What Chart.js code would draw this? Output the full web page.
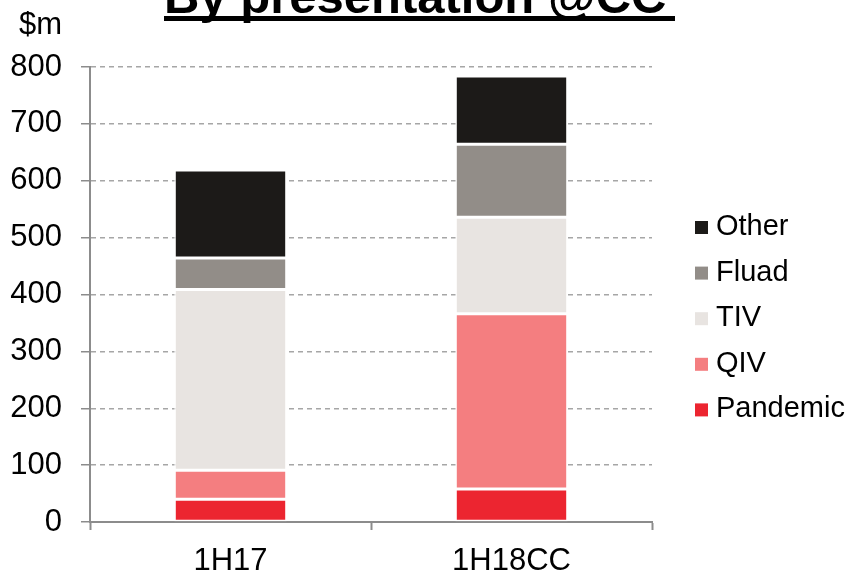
<!DOCTYPE html>
<html>
<head>
<meta charset="utf-8">
<script src="https://cdn.jsdelivr.net/npm/chart.js@4"></script>
<style>
  body { margin: 0; background: #fff; }
  #wrap { width: 850px; height: 577px; position: relative; }
</style>
</head>
<body>
<div id="wrap"><canvas id="myChart" width="850" height="577"></canvas></div>
<script>
// data ($m)
let categories = ["1H17", "1H18CC"];
let pandemic = [40, 58];
let qiv = [51, 308];
let tiv = [318, 170];
let fluad = [55, 128];
let other = [155, 120];
let yTicks = [0, 100, 200, 300, 400, 500, 600, 700, 800];

let seriesNames = ["Pandemic", "QIV", "TIV", "Fluad", "Other"];
let seriesColors = ["#ec2530", "#f47e80", "#e8e4e1", "#928d88", "#1c1a18"];
let seriesData = [pandemic, qiv, tiv, fluad, other];

const FONT = "Arial, 'Liberation Sans', sans-serif";

// title, unit label and legend drawn on the canvas
const extras = {
  id: "extras",
  afterDraw(c) {
    const ctx = c.ctx;
    ctx.save();
    ctx.fillStyle = "#000";
    ctx.font = "bold 49px " + FONT;
    ctx.textBaseline = "alphabetic";
    ctx.textAlign = "left";
    ctx.fillText("By presentation @CC", 164, 13);
    ctx.fillRect(164, 16, 511, 5);

    ctx.font = "31px " + FONT;
    ctx.textAlign = "right";
    ctx.fillText("$m", 62, 34);

    // legend, top item is the last series
    ctx.textAlign = "left";
    ctx.textBaseline = "middle";
    ctx.font = "29px " + FONT;
    for (let i = 0; i < seriesNames.length; i++) {
      let k = seriesNames.length - 1 - i;
      let y = 227 + i * 45.6;
      ctx.fillStyle = seriesColors[k];
      ctx.fillRect(695, y - 6, 13, 13);
      ctx.fillStyle = "#000";
      ctx.fillText(seriesNames[k], 716, y);
    }
    ctx.restore();
  }
};

let chart = new Chart(document.getElementById("myChart").getContext("2d"), {
  type: "bar",
  data: {
    labels: categories,
    datasets: seriesNames.map(function (name, i) {
      return {
        label: name,
        data: seriesData[i],
        backgroundColor: seriesColors[i],
        borderColor: "#ffffff",
        borderWidth: 1.5,
        borderSkipped: false,
        barPercentage: 0.4,
        categoryPercentage: 1
      };
    })
  },
  options: {
    responsive: false,
    animation: false,
    layout: { padding: { top: 67, right: 198, left: 0, bottom: 0 } },
    plugins: { legend: { display: false }, tooltip: { enabled: false } },
    scales: {
      x: {
        stacked: true,
        offset: true,
        grid: {
          offset: true,
          drawOnChartArea: false,
          drawTicks: true,
          tickLength: 8,
          tickColor: "#8c8c8c",
          tickWidth: 2
        },
        border: { color: "#8c8c8c", width: 2 },
        ticks: { color: "#000", font: { size: 31, family: FONT }, padding: 13 },
        afterFit: function (s) { s.height = 55; }
      },
      y: {
        stacked: true,
        min: 0,
        max: 800,
        afterBuildTicks: function (s) { s.ticks = yTicks.map(v => ({ value: v })); },
        grid: {
          color: "#a6a6a6",
          lineWidth: 1.5,
          tickLength: 9,
          tickColor: "#8c8c8c",
          tickWidth: 1.5,
          tickBorderDash: []
        },
        border: { color: "#8c8c8c", width: 2, dash: [5, 4] },
        ticks: { color: "#000", font: { size: 31, family: FONT }, padding: 19 },
        afterFit: function (s) { s.width = 90; }
      }
    }
  },
  plugins: [extras]
});
</script>
</body>
</html>
